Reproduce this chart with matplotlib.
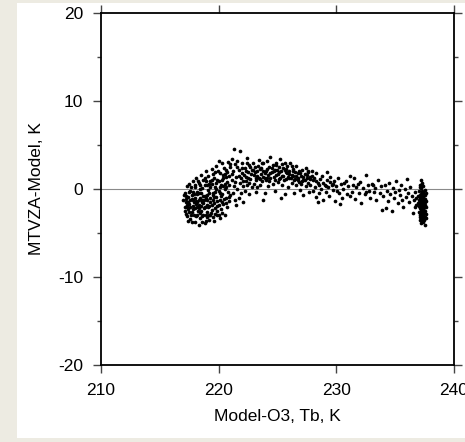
#!/usr/bin/env python3
"""Разность MTVZA - модель в зависимости от модельной Tb (канал O3)."""

import matplotlib
matplotlib.use("Agg")
import matplotlib.pyplot as plt
from matplotlib.patches import Rectangle
from matplotlib.ticker import MultipleLocator

plt.rcParams["font.family"] = ["Liberation Sans", "DejaVu Sans"]
plt.rcParams["font.size"] = 12.5
plt.rcParams["axes.unicode_minus"] = False

# точки, по участкам облака
BLOB = [
    (217.0, -1.2), (217.1, -2.0), (217.1, -0.4), (217.2, -2.8), (217.2, -1.5), (217.3, 0.3),
    (217.3, -3.1), (217.4, -0.9), (217.4, -2.3), (217.5, -1.7), (217.5, 0.6), (217.6, -3.4),
    (217.6, -0.2), (217.7, -2.6), (217.7, -1.1), (217.8, 0.9), (217.8, -1.9), (217.9, -3.0),
    (217.9, -0.6), (218.0, -2.2), (218.0, 0.2), (218.0, -3.7), (218.1, -1.4), (218.1, 1.2),
    (218.2, -2.9), (218.2, -0.3), (218.3, -1.8), (218.3, 0.7), (218.4, -3.3), (218.4, -1.0),
    (218.5, 1.6), (218.5, -2.5), (218.5, -0.5), (218.6, 0.1), (218.6, -3.8), (218.7, -1.6),
    (218.7, 1.0), (218.8, -2.1), (218.8, -0.8), (218.9, 2.0), (218.9, -3.0), (219.0, -1.3),
    (219.0, 0.4), (219.0, -2.6), (219.1, 1.5), (219.1, -0.1), (219.2, -3.5), (219.2, -1.9),
    (219.3, 0.9), (219.3, -1.0), (219.4, 2.3), (219.4, -2.4), (219.5, -0.4), (219.5, -3.2),
    (219.6, 1.3), (219.6, -1.6), (219.7, 0.2), (219.7, -2.8), (219.8, 2.6), (219.8, -0.9),
    (219.9, -1.9), (219.9, 1.0), (220.0, -3.0), (220.0, -0.2), (220.1, 1.8), (220.1, -1.3),
    (220.2, 0.5), (220.2, -2.3), (220.3, 2.9), (220.3, -0.6), (220.4, 1.2), (220.4, -1.7),
    (220.5, -2.9), (220.5, 0.0), (220.6, 2.2), (220.6, -1.0), (220.7, 0.8), (220.7, -2.0),
    (220.8, 3.1), (220.8, -0.3), (220.9, 1.5), (220.9, -1.4), (221.0, -0.7), (221.0, 2.5),
    (217.2, -0.8), (217.4, -1.5), (217.6, -2.0), (217.8, -0.3), (218.0, -1.0), (218.2, -1.5),
    (218.4, 0.0), (218.6, -1.2), (218.8, 0.5), (219.0, -0.7), (219.2, -0.4), (219.4, 0.6),
    (219.6, -0.9), (219.8, 0.0), (220.0, 0.9), (220.2, -0.8), (220.4, 0.3), (220.6, 1.4),
    (217.5, -2.6), (217.9, -1.5), (218.3, -2.2), (218.7, -2.9), (219.1, -2.1), (219.5, -1.2),
    (219.9, -2.5), (220.3, -1.5), (218.5, -1.9), (219.3, -3.0), (218.1, -3.1), (217.3, -1.8),
    (219.7, 1.9), (220.5, 1.7), (220.9, 0.4), (217.7, -3.7), (218.9, -3.6), (221.1, 3.4),
    (221.3, 4.5), (220.0, 3.2),
    (217.05, -0.7), (217.15, -2.5), (217.25, -1.1), (217.35, -2.0), (217.45, -0.3), (217.55, -1.2),
    (217.65, -2.9), (217.75, -0.7), (217.85, -2.3), (217.95, 0.4), (218.05, -1.7), (218.15, -0.6),
    (218.25, -2.5), (218.35, -1.3), (218.45, 0.4), (218.55, -3.1), (218.65, -0.8), (218.75, -2.2),
    (218.85, 1.3), (218.95, -1.0), (219.05, -3.2), (219.15, 0.6), (219.25, -1.5), (219.35, -2.7),
    (219.45, 1.0), (219.55, -0.7), (219.65, -2.2), (219.75, 0.7), (219.85, -1.4), (219.95, 2.1),
    (220.05, -1.8), (220.15, 0.2), (220.25, -2.7), (220.35, 1.6), (220.45, -1.1), (220.55, 0.6),
    (220.65, -1.6), (220.75, 1.9), (220.85, -0.9), (220.95, 2.8), (217.85, -1.2), (218.35, -0.5),
    (218.75, -1.3), (219.25, 0.2), (219.65, -0.3), (220.15, -0.5), (220.65, 0.2), (218.15, -2.1),
    (218.55, -1.5), (219.05, -1.8), (219.45, -1.8), (219.85, -2.9), (220.25, 1.0), (217.65, 0.2),
    (218.25, 0.9), (218.95, 0.9), (219.55, 1.7), (220.45, 2.4), (219.15, -2.9), (218.45, -2.7),
    (218.3, -4.1), (218.8, -3.9), (219.6, -3.6), (217.4, -3.6), (220.1, -3.3),
]

ARCH = [
    (221.1, 1.0), (221.2, -0.5), (221.2, 2.0), (221.3, 0.3), (221.4, 2.8), (221.4, -1.2),
    (221.5, 1.4), (221.6, 0.0), (221.6, 3.2), (221.7, 2.2), (221.8, 0.7), (221.8, 4.3),
    (221.9, -0.4), (222.0, 1.8), (222.0, 2.9), (222.1, 0.9), (222.2, -0.2), (222.2, 2.4),
    (222.3, 1.4), (222.4, 3.5), (222.4, 0.4), (222.5, 1.9), (222.6, 2.7), (222.6, -0.6),
    (222.7, 1.1), (222.8, 2.2), (222.8, 0.2), (222.9, 3.0), (223.0, 1.6), (223.0, 0.6),
    (223.1, 2.5), (223.2, 1.0), (223.2, -0.3), (223.3, 2.0), (223.4, 3.3), (223.4, 1.3),
    (223.5, 0.4), (223.6, 2.4), (223.6, 1.7), (223.7, 0.9), (223.8, 2.9), (223.8, 1.4),
    (223.9, -0.5), (224.0, 2.1), (224.0, 1.0), (224.1, 3.2), (224.2, 1.6), (224.2, 0.3),
    (224.3, 2.5), (224.4, 1.2), (224.4, 3.6), (224.5, 1.9), (224.6, 0.6), (224.6, 2.7),
    (224.7, 1.4), (224.8, 2.2), (224.8, -0.2), (224.9, 3.0), (225.0, 1.7), (225.0, 0.8),
    (225.1, 2.5), (225.2, 1.3), (225.2, 3.4), (225.3, 2.0), (225.4, 0.5), (225.4, 2.8),
    (225.5, 1.5), (225.6, 2.2), (225.6, -0.6), (225.7, 1.1), (225.8, 2.6), (225.8, 1.8),
    (225.9, 0.2), (226.0, 2.0), (226.0, 1.2), (226.1, 2.9), (226.2, 0.7), (226.2, 1.6),
    (226.3, 2.3), (226.4, 1.0), (226.4, -0.4), (226.5, 1.9), (226.6, 0.4), (226.6, 2.6),
    (226.7, 1.3), (226.8, 0.8), (226.8, 2.1), (226.9, -0.1), (227.0, 1.5), (227.0, 0.6),
    (227.1, 2.2), (227.2, 1.0), (227.2, -0.7), (227.3, 1.7), (227.4, 0.3), (227.4, 2.4),
    (227.5, 1.2), (227.6, 0.7), (227.6, 1.9), (227.7, -0.3), (227.8, 1.4), (227.8, 0.5),
    (227.9, 2.0), (228.0, 1.0), (228.0, -0.2),
    (221.5, -1.8), (221.9, 1.2), (222.3, 0.9), (222.7, 2.5), (223.1, 1.9), (223.5, 2.3),
    (223.9, 1.8), (224.3, 0.9), (224.7, 2.0), (225.1, 1.1), (225.5, 2.4), (225.9, 1.4),
    (226.3, 1.5), (226.7, 1.8), (227.1, 0.9), (227.5, 1.6), (222.5, 1.2), (223.3, 1.5),
    (224.1, 1.3), (224.9, 1.6), (225.7, 1.9), (226.5, 1.1), (221.7, -1.0), (222.1, -1.5),
    (223.8, -1.3), (225.3, -1.0),
    (221.15, 1.7), (221.35, 0.8), (221.55, 2.5), (221.75, 1.5), (221.95, 2.4), (222.15, 1.6),
    (222.35, 2.1), (222.55, 0.7), (222.75, 1.7), (222.95, 2.2), (223.15, 1.3), (223.35, 2.6),
    (223.55, 1.1), (223.75, 2.0), (223.95, 1.2), (224.15, 2.3), (224.35, 1.8), (224.55, 2.4),
    (224.75, 1.0), (224.95, 2.2), (225.15, 1.9), (225.35, 1.5), (225.55, 1.0), (225.75, 2.3),
    (225.95, 1.7), (226.15, 1.3), (226.35, 2.0), (226.55, 1.5), (226.75, 1.0), (226.95, 1.8),
    (227.15, 1.4), (227.35, 1.0), (227.55, 2.0), (227.75, 1.1), (227.95, 1.5), (222.45, 2.9),
    (223.65, 3.0), (224.85, 2.7), (225.65, 2.9), (226.25, 2.6), (222.05, 0.3), (223.25, 0.2),
]

TAIL = [
    (228.1, 1.3), (228.2, 0.2), (228.3, -0.9), (228.3, 1.8), (228.4, 0.7), (228.5, -0.4),
    (228.6, 1.1), (228.7, 0.0), (228.8, 1.5), (228.9, -1.2), (229.0, 0.5), (229.1, -0.3),
    (229.2, 1.0), (229.3, 0.2), (229.4, -0.8), (229.5, 1.4), (229.6, 0.4), (229.7, -0.1),
    (229.8, 0.9), (229.9, -1.4), (230.0, 0.3), (230.1, 1.2), (230.2, -0.5), (230.4, 0.6),
    (230.5, -1.0), (230.6, 0.0), (230.8, 0.9), (230.9, -0.6), (231.0, 0.3), (231.2, 1.5),
    (231.3, -0.3), (231.4, 0.5), (231.6, -1.1), (231.7, 0.2), (231.9, -0.4), (232.0, 0.8),
    (232.1, -1.6), (232.3, 0.1), (232.4, -0.6), (232.5, 1.6), (232.7, 0.4), (232.8, -0.2),
    (232.9, -1.0), (233.0, 0.6), (233.2, -0.3), (233.3, 0.1), (233.4, -1.3), (233.5, 1.0),
    (233.7, -0.5), (233.8, 0.3), (233.9, -2.4), (234.0, -0.8), (234.1, 0.5), (234.2, -2.2),
    (234.3, -0.2), (234.4, -1.4), (234.5, 0.7), (234.6, -0.6), (234.7, -2.5), (234.8, 0.1),
    (234.9, -1.0), (235.0, -0.3), (235.1, 0.9), (235.2, -1.6), (235.3, -0.1), (235.4, -0.7),
    (235.5, 0.4), (235.6, -1.2), (235.7, -2.0), (235.8, 0.0), (235.9, -0.9), (236.0, 1.1),
    (236.1, -0.4), (236.2, -1.5), (236.3, 0.2), (236.4, -0.8), (236.5, -2.7), (236.6, -1.2),
    (236.7, -0.3), (236.8, -1.8), (228.4, -1.5), (229.2, 1.9), (230.3, -1.7), (231.5, 1.3),
    (236.8, -1.0), (236.7, -2.1),
    (228.25, 0.9), (228.55, 0.4), (228.85, 0.7), (229.15, 0.3), (229.45, 0.8), (229.75, 0.6),
    (230.05, -0.2), (230.65, 0.7), (231.15, -0.8), (231.85, 0.6), (232.55, -0.3), (233.15, 0.4),
]

COLUMN = [
    (237.2, 1.0), (237.3, 0.7), (237.1, 0.5), (237.4, 0.3), (237.2, 0.1), (237.5, -0.1),
    (237.0, -0.2), (237.3, -0.4), (237.6, -0.5), (237.1, -0.7), (237.4, -0.8), (237.2, -1.0),
    (237.5, -1.1), (237.0, -1.2), (237.3, -1.3), (237.6, -1.4), (237.1, -1.5), (237.4, -1.6),
    (237.2, -1.7), (237.5, -1.8), (237.0, -1.9), (237.3, -2.0), (237.6, -2.1), (237.1, -2.2),
    (237.4, -2.3), (237.2, -2.4), (237.5, -2.5), (237.0, -2.6), (237.3, -2.7), (237.6, -2.8),
    (237.1, -2.9), (237.4, -3.0), (237.2, -3.1), (237.5, -3.2), (237.3, -3.4), (237.1, -3.5),
    (237.4, -3.7), (237.2, -3.9), (237.5, -4.1), (237.3, -1.1), (237.2, -0.6), (237.4, -1.9),
    (237.3, -2.5), (237.2, -2.2), (237.4, -2.8), (237.3, -0.2), (237.1, -1.8), (237.5, -1.5),
    (237.3, -3.1), (237.2, -0.9), (237.4, -0.3), (237.3, -1.6), (237.2, -2.0), (237.4, -2.4),
    (237.3, -2.9), (236.9, -1.6), (236.9, -0.8), (237.6, -3.3), (237.5, -0.7), (237.1, 0.2),
    (237.25, 0.4), (237.35, -0.6), (237.15, -1.0), (237.45, -1.3), (237.25, -1.4), (237.35, -1.8),
    (237.15, -2.0), (237.45, -2.1), (237.25, -2.6), (237.35, -2.3), (237.15, -2.7), (237.45, -2.6),
    (237.25, -3.0), (237.35, -3.3), (237.15, -3.2), (237.45, -3.5), (237.25, -3.6), (237.35, -0.9),
]

X_TICKS = [210, 220, 230, 240]
Y_TICKS = [-20, -10, 0, 10, 20]


def main() -> None:
    fig = plt.figure(figsize=(4.65, 4.42), dpi=100, facecolor="#edebe2")
    # белая подложка под графиком (под осями)
    fig.patches.append(Rectangle((17 / 465, 4 / 442), 1.0, 435 / 442,
                                 transform=fig.transFigure, facecolor="white",
                                 edgecolor="none", zorder=-10))
    ax = fig.add_axes([101 / 465, 77 / 442, 353 / 465, 352 / 442])
    ax.set_zorder(1)
    ax.patch.set_alpha(0)

    pts = BLOB + ARCH + TAIL + COLUMN
    xs = [p[0] for p in pts]
    ys = [p[1] for p in pts]
    ax.axhline(0, color="#8a8a8a", lw=0.8, zorder=1)
    ax.scatter(xs, ys, s=7, color="black", linewidths=0, zorder=2)

    ax.set_xlim(210, 240)
    ax.set_ylim(-20, 20)
    ax.set_xticks(X_TICKS)
    ax.set_yticks(Y_TICKS)
    ax.yaxis.set_minor_locator(MultipleLocator(5))
    ax.tick_params(which="both", direction="out", top=True, right=True,
                   width=1.0, color="#444444")
    ax.tick_params(which="major", length=6, pad=7)
    ax.tick_params(which="minor", length=3)
    for sp in ax.spines.values():
        sp.set_linewidth(1.3)

    ax.set_xlabel("Model-O3, Tb, K", labelpad=8)
    ax.set_ylabel("MTVZA-Model, K", labelpad=10)

    fig.savefig("out.png", dpi=100, facecolor=fig.get_facecolor())
    plt.close(fig)


if __name__ == "__main__":
    main()
